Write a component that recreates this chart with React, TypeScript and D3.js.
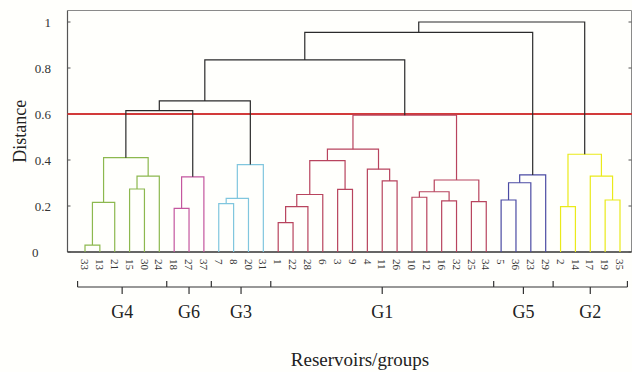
import React from "react";
import * as d3 from "d3";

// Leaf order along the x axis (reservoir ids)
const leafOrder = [33, 13, 21, 15, 30, 24, 18, 27, 37, 7, 8, 20, 31, 1, 22, 28, 6, 3, 9, 4, 11, 26, 10, 12, 16, 32, 25, 34, 5, 36, 23, 29, 2, 14, 17, 19, 35];
const groupNames = ["G4", "G6", "G3", "G1", "G5", "G2"];
const groupSizes = [6, 3, 4, 15, 4, 5];
const groupColors = ["#8cb84e", "#c4579f", "#80c6de", "#b8445e", "#4b4ba3", "#eaea1a"];

// Linkage rows: [a, b, height]; ids <= 37 are leaves, id 37+k is row k (1-based)
const linkage: [number, number, number][] = [
  [33, 13, 0.03],
  [38, 21, 0.216],
  [15, 30, 0.274],
  [40, 24, 0.33],
  [39, 41, 0.41],
  [18, 27, 0.19],
  [43, 37, 0.327],
  [7, 8, 0.21],
  [45, 20, 0.233],
  [46, 31, 0.38],
  [1, 22, 0.128],
  [48, 28, 0.197],
  [49, 6, 0.25],
  [3, 9, 0.272],
  [50, 51, 0.397],
  [11, 26, 0.309],
  [4, 53, 0.36],
  [52, 54, 0.447],
  [10, 12, 0.238],
  [16, 32, 0.222],
  [56, 57, 0.262],
  [25, 34, 0.219],
  [58, 59, 0.313],
  [55, 60, 0.595],
  [5, 36, 0.226],
  [62, 23, 0.301],
  [63, 29, 0.335],
  [2, 14, 0.197],
  [19, 35, 0.226],
  [17, 66, 0.33],
  [65, 67, 0.425],
  [42, 44, 0.615],
  [69, 47, 0.657],
  [70, 61, 0.835],
  [71, 64, 0.955],
  [72, 68, 1.0],
];

const yTicks = [0, 0.2, 0.4, 0.6, 0.8, 1];
const yTickLabels = ["0", "0.2", "0.4", "0.6", "0.8", "1"];
const cutHeight = 0.6;

const W = 632;
const H = 372;
const box = { left: 67.5, right: 631.5, top: 10.5, bottom: 252 };
const serif = "'Liberation Serif', 'DejaVu Serif', serif";

export default function App() {
  const x = d3.scalePoint<number>().domain(leafOrder).range([85, 620]);
  const y = d3.scaleLinear().domain([0, 1]).range([252, 22]);
  const step = x.step();

  // group index per leaf
  const leafGroup = new Map<number, number>();
  let pos = 0;
  groupSizes.forEach((s, gi) => {
    for (let i = 0; i < s; i++) leafGroup.set(leafOrder[pos + i], gi);
    pos += s;
  });

  type N = { x: number; h: number; g: number };
  const nodes = new Map<number, N>();
  leafOrder.forEach((id) => nodes.set(id, { x: x(id)!, h: 0, g: leafGroup.get(id)! }));
  const n = leafOrder.length;
  const links: { d: string; color: string }[] = [];
  linkage.forEach(([a, b, h], k) => {
    const A = nodes.get(a)!;
    const B = nodes.get(b)!;
    const g = A.g === B.g && A.g >= 0 && h < cutHeight ? A.g : -1;
    nodes.set(n + 1 + k, { x: (A.x + B.x) / 2, h, g });
    const p = d3.path();
    p.moveTo(A.x, y(A.h));
    p.lineTo(A.x, y(h));
    p.lineTo(B.x, y(h));
    p.lineTo(B.x, y(B.h));
    links.push({ d: p.toString(), color: g >= 0 ? groupColors[g] : "#2b2b2b" });
  });

  // group brackets
  const bounds: number[] = [];
  let idx = 0;
  bounds.push(x(leafOrder[0])! - step / 2);
  groupSizes.forEach((s) => {
    idx += s;
    bounds.push(x(leafOrder[idx - 1])! + step / 2);
  });
  const bracketY = 287;

  return (
    <svg
      width={W}
      height={H}
      style={{ position: "fixed", left: 0, top: 0, background: "#fffffc" }}
    >
      {/* frame */}
      <line x1={box.left} x2={box.right} y1={box.top} y2={box.top} stroke="#8a8a8a" strokeWidth={1} />
      <line x1={box.right} x2={box.right} y1={box.top} y2={box.bottom} stroke="#8a8a8a" strokeWidth={1} />
      <line x1={box.left} x2={box.left} y1={box.top} y2={box.bottom} stroke="#555" strokeWidth={1.2} />
      <line x1={box.left} x2={box.right} y1={box.bottom} y2={box.bottom} stroke="#333" strokeWidth={1.3} />

      {/* y ticks */}
      {yTicks.map((t, i) => (
        <g key={t}>
          <line x1={box.left} x2={box.left + 3} y1={y(t)} y2={y(t)} stroke="#555" />
          <line x1={box.right - 3} x2={box.right} y1={y(t)} y2={y(t)} stroke="#555" />
          <text
            x={t === 0 ? 32 : 51}
            y={y(t)}
            dy="0.35em"
            textAnchor={t === 0 ? "start" : "end"}
            fontFamily={serif}
            fontSize={13}
            fill="#333"
          >
            {yTickLabels[i]}
          </text>
        </g>
      ))}

      {/* threshold line */}
      <line x1={box.left} x2={W} y1={y(cutHeight)} y2={y(cutHeight)} stroke="#d23a3a" strokeWidth={2} />

      {/* dendrogram */}
      {links.map((l, i) => (
        <path key={i} d={l.d} fill="none" stroke={l.color} strokeWidth={1.2} />
      ))}

      {/* leaf labels */}
      {leafOrder.map((id) => (
        <text
          key={id}
          transform={`translate(${x(id)},259) rotate(90)`}
          dy="0.35em"
          textAnchor="start"
          fontFamily={serif}
          fontSize={11}
          fill="#333"
        >
          {String(id)}
        </text>
      ))}

      {/* group brackets */}
      <line x1={bounds[0]} x2={bounds[bounds.length - 1]} y1={bracketY} y2={bracketY} stroke="#333" strokeWidth={1.2} />
      {bounds.map((b, i) => (
        <line key={"b" + i} x1={b} x2={b} y1={bracketY - 6} y2={bracketY} stroke="#333" strokeWidth={1.2} />
      ))}
      {groupNames.map((g, i) => {
        const cx = (bounds[i] + bounds[i + 1]) / 2;
        return (
          <g key={g}>
            <line x1={cx} x2={cx} y1={bracketY} y2={bracketY + 7} stroke="#333" strokeWidth={1.2} />
            <text x={cx} y={318} textAnchor="middle" fontFamily={serif} fontSize={18} fill="#222">
              {g}
            </text>
          </g>
        );
      })}

      {/* axis titles */}
      <text x={360} y={366} textAnchor="middle" fontFamily={serif} fontSize={19} fill="#222">
        Reservoirs/groups
      </text>
      <text
        transform={`translate(26,${(box.top + box.bottom) / 2}) rotate(-90)`}
        textAnchor="middle"
        fontFamily={serif}
        fontSize={18}
        fill="#222"
      >
        Distance
      </text>
    </svg>
  );
}
